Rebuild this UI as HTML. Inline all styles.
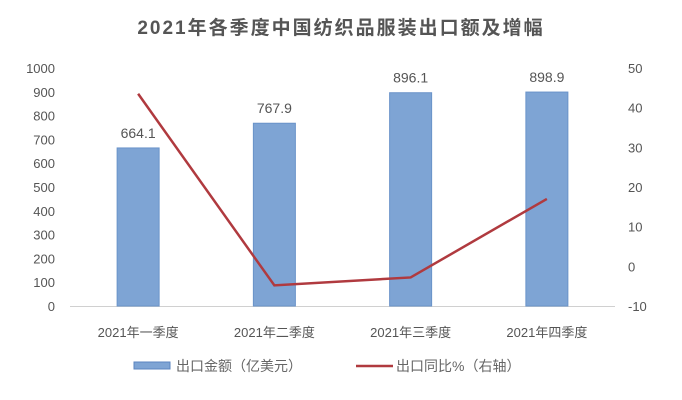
<!DOCTYPE html>
<html><head><meta charset="utf-8"><style>
body{margin:0;background:#fff;}
svg{display:block;font-family:"Liberation Sans","Noto Sans CJK SC",sans-serif;}
</style></head><body>
<svg width="682" height="400">
<text x="341" y="34" text-anchor="middle" font-size="19" font-weight="bold" fill="#555" letter-spacing="2">2021年各季度中国纺织品服装出口额及增幅</text>
<g id="axes"></g><g id="bars"></g><g id="line"></g>
<g>
<rect x="134" y="362" width="36" height="7" fill="#7ea4d4" stroke="#5b85c0"/>
<text x="176" y="371" font-size="14" fill="#666">出口金额（亿美元）</text>
<line x1="356" y1="366" x2="393" y2="366" stroke="#b03a3f" stroke-width="2.5"/>
<text x="396" y="371" font-size="14" fill="#666">出口同比%（右轴）</text>
</g>
</svg>
<script>
const categories=["2021年一季度","2021年二季度","2021年三季度","2021年四季度"];
const exportValues=[664.1,767.9,896.1,898.9];
const growthValues=[43.5,-4.8,-2.8,17];
const leftTicks=[0,100,200,300,400,500,600,700,800,900,1000];
const rightTicks=[-10,0,10,20,30,40,50];
{
const NS="http://www.w3.org/2000/svg";
const plotTop=68,plotBottom=306,x0=70,x1=615;
const yL=v=>plotBottom-(v/1000)*(plotBottom-plotTop);
const yR=v=>plotBottom-((v+10)/60)*(plotBottom-plotTop);
const band=(x1-x0)/categories.length;
const xC=i=>x0+band*(i+0.5);
function mk(tag,attrs,parent,txt){const e=document.createElementNS(NS,tag);for(const k in attrs)e.setAttribute(k,attrs[k]);if(txt!==undefined)e.textContent=txt;document.getElementById(parent).appendChild(e);return e;}
leftTicks.forEach(t=>{const e=mk('text',{x:55,y:yL(t)+5,'text-anchor':'end','font-size':13,fill:'#555'},'axes',t);

});
rightTicks.forEach(t=>{const e=mk('text',{x:628,y:yR(t)+5,'font-size':13,fill:'#555'},'axes',t);

});
const ax=mk('line',{x1:x0,y1:plotBottom+0.5,x2:x1,y2:plotBottom+0.5,stroke:'#d0d0d0'},'axes');


categories.forEach((c,i)=>{const e=mk('text',{x:xC(i),y:337,'text-anchor':'middle','font-size':13,fill:'#555'},'axes',c);

});
exportValues.forEach((v,i)=>{const r=mk('rect',{x:xC(i)-21,y:yL(v),width:42,height:plotBottom-yL(v),fill:'#7ea4d4',stroke:'#6a93c9'},'bars');


const t=mk('text',{x:xC(i),y:yL(v)-10,'text-anchor':'middle','font-size':14,fill:'#555'},'bars',v.toFixed(1));

});
const pts=growthValues.map((v,i)=>xC(i)+','+yR(v)).join(' ');
const pl=mk('polyline',{points:pts,fill:'none',stroke:'#b03a3f','stroke-width':2.5},'line');


}
</script>
</body></html>
